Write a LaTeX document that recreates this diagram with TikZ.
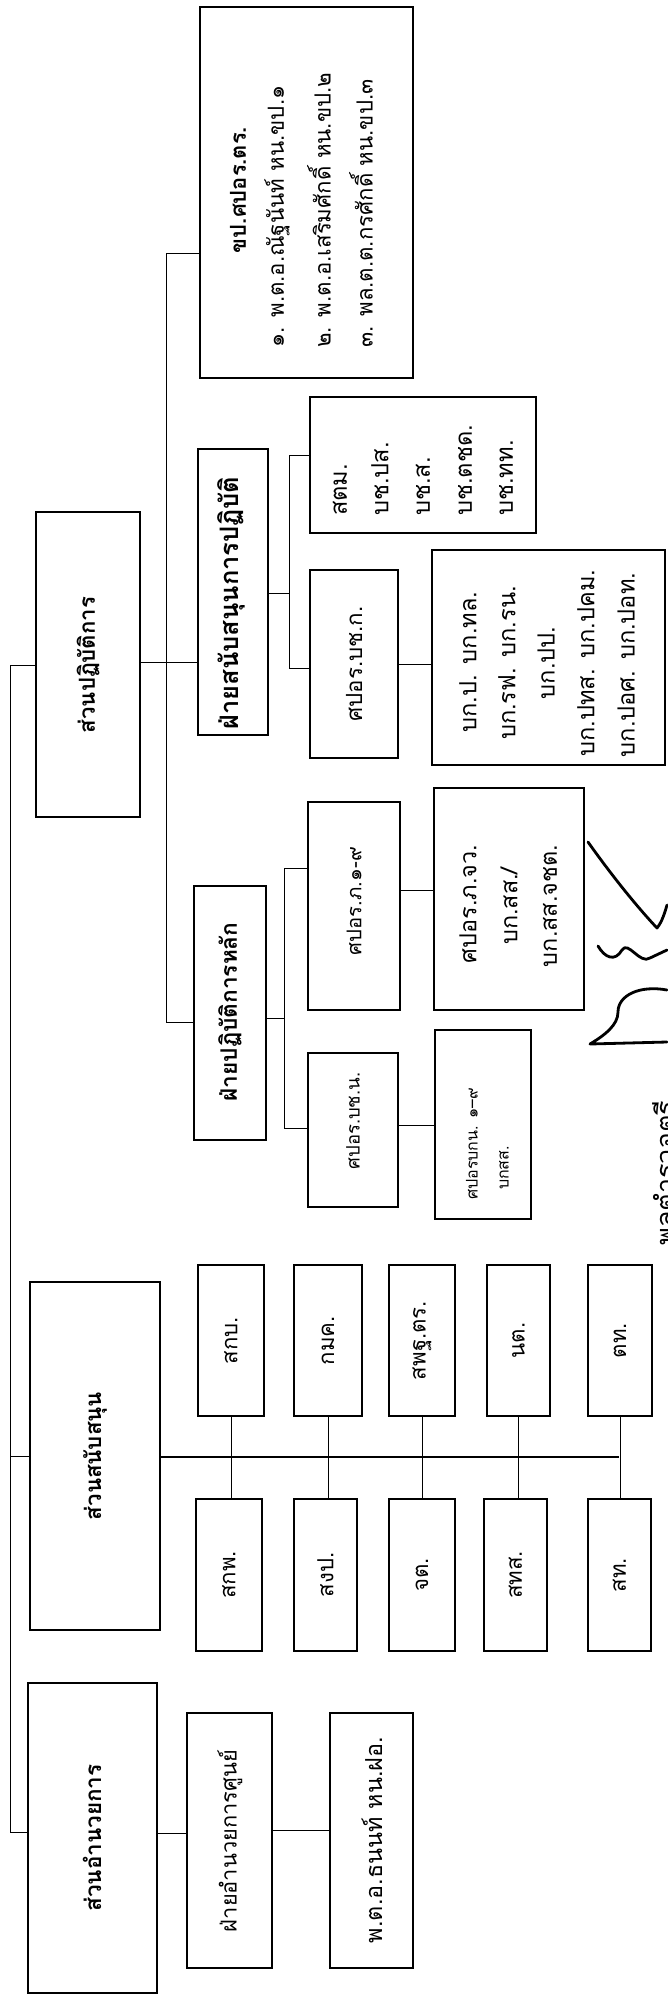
\documentclass[tikz,border=0pt]{standalone}
\usepackage{fontspec}
\setmainfont[Script=Thai]{Loma}
\newlength\fitw
\newcommand\fitfont[3]{\settowidth\fitw{\fontsize{10pt}{12pt}\selectfont #2}\pgfmathsetmacro\fitsz{10*#1/\fitw}\fontsize{\fitsz pt}{#3pt}\selectfont}
\newcommand\bx[5]{\node[box, minimum width={(#3-#2)*1pt}, minimum height={(#5-#4)*1pt}] (#1) at ({(#2+#3)/2},{(#4+#5)/2}) {};}
\newcommand\khpfont{\fitfont{275}{๒. พ.ต.อ.เสริมศักดิ์ หน.ขป.๒}{30}}
\newcommand\bkpfont{\fitfont{187}{บก.ปทส. บก.ปคม.}{30}}
\newcommand\jwfont{\fitfont{122}{บก.สส.จชต.}{30}}
\newcommand\smfont{\fitfont{79}{สพฐ.ตร.}{30}}
\begin{document}
\begin{tikzpicture}[x=1pt,y=-1pt,
  box/.style={draw, line width=1.3pt, inner sep=0pt},
  conn/.style={line width=1pt},
  txt/.style={rotate=90, inner sep=0pt},
  sig/.style={line width=2.8pt, line cap=round, line join=round}]
\useasboundingbox (0,0) rectangle (667,1999);
\fill[white] (0,0) rectangle (667,1999);
% boxes
\bx{khp}{200}{413}{7}{378}
\bx{sop}{36}{140}{512}{817}
\bx{fsp}{198}{268}{449}{735}
\bx{stm}{310}{536}{397}{533}
\bx{bchk}{310}{398}{570}{758}
\bx{bkp}{432}{665}{550}{765}
\bx{fph}{194}{266}{886}{1140}
\bx{phn}{308}{400}{802}{1010}
\bx{phjw}{434}{584}{788}{1010}
\bx{bchn}{308}{398}{1053}{1207}
\bx{bkn}{435}{531}{1030}{1219}
\bx{ssn}{30}{160}{1282}{1630}
\bx{ta}{198}{264}{1265}{1416}
\bx{tb}{294}{362}{1265}{1416}
\bx{tc}{389}{455}{1265}{1416}
\bx{td}{487}{550}{1265}{1416}
\bx{te}{588}{652}{1265}{1416}
\bx{ba}{196}{262}{1499}{1651}
\bx{bb}{294}{357}{1499}{1651}
\bx{bc}{389}{455}{1499}{1651}
\bx{bd}{484}{547}{1499}{1651}
\bx{be}{588}{651}{1499}{1651}
\bx{soa}{28}{157}{1683}{1993}
\bx{faa}{187}{272}{1713}{1968}
\bx{pto}{330}{413}{1713}{1968}
% texts: operations command
\node[txt, font={\bfseries\fitfont{126}{ขป.ศปอร.ตร.}{30}}] (khp-t) at (238,190) {ขป.ศปอร.ตร.};
\node[txt, anchor=west, font=\khpfont] (khp-a) at (277,348) {๑. พ.ต.อ.ณัฐนันท์ หน.ขป.๑};
\node[txt, anchor=west, font=\khpfont] (khp-b) at (319,348) {๒. พ.ต.อ.เสริมศักดิ์ หน.ขป.๒};
\node[txt, anchor=west, font=\khpfont] (khp-c) at (361,348) {๓. พล.ต.ต.กรศักดิ์ หน.ขป.๓};
\node[txt, font={\bfseries\fitfont{136}{ส่วนปฏิบัติการ}{30}}] (sop-t) at (88,665) {ส่วนปฏิบัติการ};
\node[txt, font={\bfseries\fitfont{253}{ฝ่ายสนับสนุนการปฏิบัติ}{30}}] (fsp-t) at (231,603) {ฝ่ายสนับสนุนการปฏิบัติ};
\node[txt, anchor=west, font=\bkpfont] (stm-a) at (340,516) {สตม.};
\node[txt, anchor=west, font=\bkpfont] (stm-b) at (380,516) {บช.ปส.};
\node[txt, anchor=west, font=\bkpfont] (stm-c) at (423,516) {บช.ส.};
\node[txt, anchor=west, font=\bkpfont] (stm-d) at (465,516) {บช.ตชด.};
\node[txt, anchor=west, font=\bkpfont] (stm-e) at (506,516) {บช.ทท.};
\node[txt, font={\fitfont{115}{ศปอร.บช.ก.}{30}}] (bchk-t) at (354,664) {ศปอร.บช.ก.};
\node[txt, font=\bkpfont] (bkp-a) at (468,662) {บก.ป. บก.ทล.};
\node[txt, font=\bkpfont] (bkp-b) at (507,663) {บก.รฟ. บก.รน.};
\node[txt, font=\bkpfont] (bkp-c) at (546,663) {บก.ปป.};
\node[txt, font=\bkpfont] (bkp-d) at (586,663) {บก.ปทส. บก.ปคม.};
\node[txt, font=\bkpfont] (bkp-e) at (626,665) {บก.ปอศ. บก.ปอท.};
\node[txt, font={\bfseries\fitfont{179}{ฝ่ายปฏิบัติการหลัก}{30}}] (fph-t) at (230,1012) {ฝ่ายปฏิบัติการหลัก};
\node[txt, font={\fitfont{108}{ศปอร.ภ.๑-๙}{30}}] (phn-t) at (354,901) {ศปอร.ภ.๑-๙};
\node[txt, font=\jwfont] (phjw-a) at (468,904) {ศปอร.ภ.จว.};
\node[txt, font=\jwfont] (phjw-b) at (509,906) {บก.สส./};
\node[txt, font=\jwfont] (phjw-c) at (550,906) {บก.สส.จชต.};
\node[txt, font={\fitfont{97}{ศปอร.บช.น.}{30}}] (bchn-t) at (353,1121) {ศปอร.บช.น.};
\node[txt, font={\fitfont{84}{ศปอร.บช.น.}{30}}] (bkn-a) at (472,1144) {ศปอรบกน. ๑–๙};
\node[txt, font={\fitfont{84}{ศปอร.บช.น.}{30}}] (bkn-b) at (504,1168) {บกสส.};
% texts: support
\node[txt, font={\bfseries\fitfont{128}{ส่วนสนับสนุน}{30}}] (ssn-t) at (95,1456) {ส่วนสนับสนุน};
\foreach \n/\t in {ta/สกบ., tb/กมค., tc/สพฐ.ตร., td/นต., te/ตท., ba/สกพ., bb/สงป., bc/จต., bd/สทส., be/สท.}
  \node[txt, font=\smfont] (\n-t) at (\n) {\t};
% texts: administration
\node[txt, font={\bfseries\fitfont{147}{ส่วนอำนวยการ}{30}}] (soa-t) at (92,1838) {ส่วนอำนวยการ};
\node[txt, font={\fitfont{182}{ฝ่ายอำนวยการศูนย์}{30}}] (faa-t) at (230,1841) {ฝ่ายอำนวยการศูนย์};
\node[txt, font={\fitfont{206}{พ.ต.อ.ธนนท์ หน.ฝอ.}{30}}] (pto-t) at (372,1840) {พ.ต.อ.ธนนท์ หน.ฝอ.};
\node[txt, anchor=north west, font={\fitfont{145}{พลตำรวจตรี}{30}}] (rank-t) at (652,1246) {พลตำรวจตรี};
% trunk
\coordinate (trT) at (10,665);
\coordinate (trS) at (10,1456);
\coordinate (trB) at (10,1832);
\draw[conn] (trT) -- (trB);
\draw[conn] (trT) -- (sop.west |- trT);
\draw[conn] (trS) -- (ssn.west |- trS);
\draw[conn] (trB) -- (soa.west |- trB);
% operations bus
\coordinate (ob1) at (166,253);
\coordinate (ob2) at (166,662);
\coordinate (ob3) at (166,1022);
\draw[conn] (ob1) -- (ob3);
\draw[conn] (ob1) -- (khp.west |- ob1);
\draw[conn] (sop.east |- ob2) -- (fsp.west |- ob2);
\draw[conn] (ob3) -- (fph.west |- ob3);
% support of operations
\coordinate (sb0) at (289,593);
\coordinate (sb1) at (289,455);
\coordinate (sb2) at (289,668);
\draw[conn] (fsp.east |- sb0) -- (sb0);
\draw[conn] (sb1) -- (sb2);
\draw[conn] (sb1) -- (stm.west |- sb1);
\draw[conn] (sb2) -- (bchk.west |- sb2);
\draw[conn] (bchk.east) -- (bkp.west |- bchk.east);
% main operations
\coordinate (pb0) at (284,1018);
\coordinate (pb1) at (284,868);
\coordinate (pb2) at (284,1128);
\draw[conn] (fph.east |- pb0) -- (pb0);
\draw[conn] (pb1) -- (pb2);
\draw[conn] (pb1) -- (phn.west |- pb1);
\draw[conn] (pb2) -- (bchn.west |- pb2);
\coordinate (pc1) at (417,890);
\coordinate (pc2) at (417,1125);
\draw[conn] (phn.east |- pc1) -- (phjw.west |- pc1);
\draw[conn] (bchn.east |- pc2) -- (bkn.west |- pc2);
% support bus
\coordinate (ssb) at (619,1457);
\draw[line width=1.6pt] (ssn.east |- ssb) -- (ssb);
\foreach \a/\b in {ta/ba, tb/bb, tc/bc, td/bd, te/be}
  \draw[conn] (\a.south) -- (\a.south |- \b.north);
% administration
\coordinate (ad1) at (172,1833);
\coordinate (ad2) at (300,1830);
\draw[conn] (soa.east |- ad1) -- (faa.west |- ad1);
\draw[conn] (faa.east |- ad2) -- (pto.west |- ad2);
% signature
\draw[sig] (588,842) .. controls (615,880) and (640,910) .. (657,928) .. controls (662,922) and (665,912) .. (667,905);
\draw[sig] (598,946) .. controls (605,958) and (615,962) .. (622,950) .. controls (628,940) and (640,965) .. (650,958) -- (667,950);
\draw[sig] (667,990) .. controls (640,985) and (618,995) .. (618,1012) .. controls (618,1025) and (605,1035) .. (590,1044) -- (667,1042);
\end{tikzpicture}
\end{document}
